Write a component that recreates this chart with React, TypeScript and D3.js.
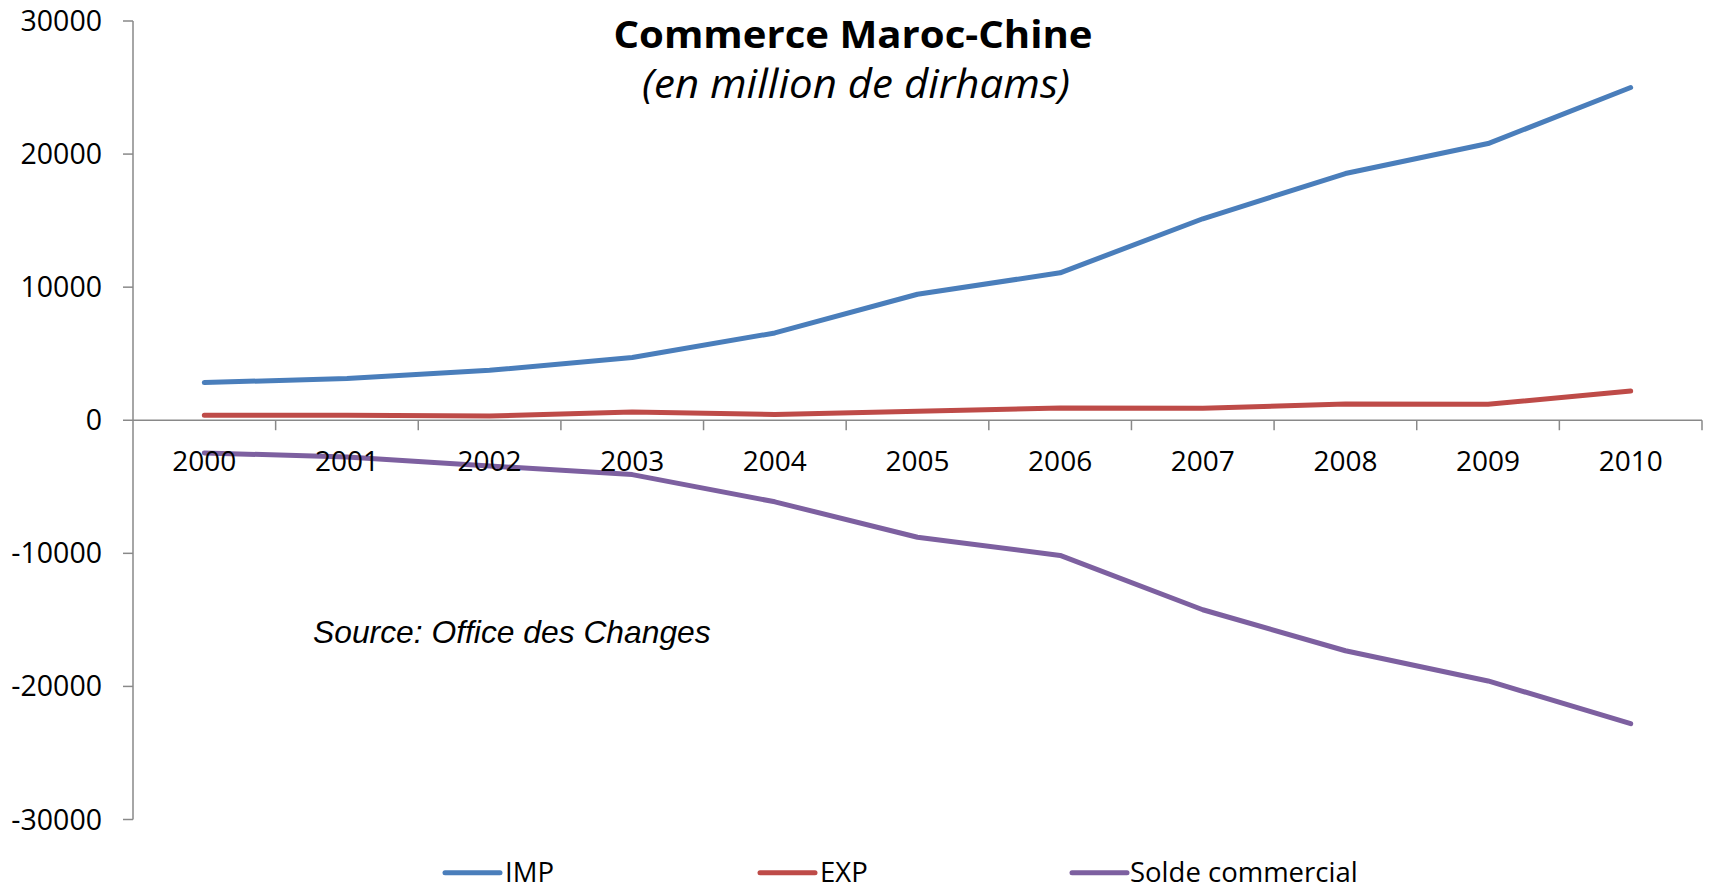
import React, { useEffect } from "react";
import * as d3 from "d3";

const years = ["2000", "2001", "2002", "2003", "2004", "2005", "2006", "2007", "2008", "2009", "2010"];
const imp = [2830, 3140, 3750, 4710, 6560, 9470, 11080, 15140, 18540, 20790, 25000];
const exp = [375, 375, 320, 625, 430, 680, 925, 900, 1220, 1200, 2200];
const solde = [-2455, -2765, -3430, -4085, -6130, -8790, -10155, -14240, -17320, -19590, -22800];
const yTicks = [30000, 20000, 10000, 0, -10000, -20000, -30000];
const seriesNames = ["IMP", "EXP", "Solde commercial"];
const seriesColors = ["#4A7EBB", "#BE4B48", "#7D60A0"];

const W = 1709;
const H = 889;

export default function App() {
  useEffect(() => {
    document.body.style.margin = "0";
  }, []);

  const x = d3.scaleBand<string>().domain(years).range([133, 1702]).paddingInner(0).paddingOuter(0);
  const y = d3.scaleLinear().domain([-30000, 30000]).range([819.5, 21]);
  const cx = (yr: string) => (x(yr) as number) + x.bandwidth() / 2;

  const line = d3
    .line<number>()
    .x((_, i) => cx(years[i]))
    .y((v) => y(v));

  const series = [imp, exp, solde];
  const axisColor = "#898989";
  const font = "'Open Sans', Calibri, sans-serif";
  const x0 = x.range()[0];
  const x1 = x.range()[1];
  const yZero = y(0);

  const legendItems = [
    { lx: 445, tx: 505 },
    { lx: 760, tx: 820 },
    { lx: 1072, tx: 1130 },
  ];

  return (
    <svg width={W} height={H} style={{ display: "block", background: "#fff" }}>
      {/* y axis */}
      <line x1={x0} x2={x0} y1={y(30000)} y2={y(-30000)} stroke={axisColor} strokeWidth={1.5} />
      {yTicks.map((t) => (
        <g key={t}>
          <line x1={x0 - 10} x2={x0} y1={y(t)} y2={y(t)} stroke={axisColor} strokeWidth={1.5} />
          <text x={102} y={y(t) + 10} textAnchor="end" fontFamily={font} fontSize={28.5} fill="#000">
            {t}
          </text>
        </g>
      ))}
      {/* x axis */}
      <line x1={x0} x2={x1} y1={yZero} y2={yZero} stroke={axisColor} strokeWidth={1.5} />
      {years.map((yr) => (
        <line
          key={"t" + yr}
          x1={(x(yr) as number) + x.bandwidth()}
          x2={(x(yr) as number) + x.bandwidth()}
          y1={yZero}
          y2={yZero + 10}
          stroke={axisColor}
          strokeWidth={1.5}
        />
      ))}
      {/* series */}
      {series.map((s, i) => (
        <path
          key={seriesNames[i]}
          d={line(s) as string}
          fill="none"
          stroke={seriesColors[i]}
          strokeWidth={5}
          strokeLinejoin="round"
          strokeLinecap="round"
        />
      ))}
      {/* x labels (drawn above lines like Excel) */}
      {years.map((yr) => (
        <text key={"l" + yr} x={cx(yr)} y={yZero + 51} textAnchor="middle" fontFamily={font} fontSize={28} fill="#000">
          {yr}
        </text>
      ))}
      {/* title */}
      <text
        x={853}
        y={48}
        textAnchor="middle"
        fontFamily={font}
        fontWeight={700}
        fontSize={38}
        fill="#000"
        textLength={479}
        lengthAdjust="spacingAndGlyphs"
      >
        Commerce Maroc-Chine
      </text>
      <text
        x={856}
        y={98}
        textAnchor="middle"
        fontFamily={font}
        fontStyle="italic"
        fontSize={40}
        fill="#000"
        textLength={428}
        lengthAdjust="spacingAndGlyphs"
      >
        (en million de dirhams)
      </text>
      {/* source */}
      <text x={313} y={643} fontFamily="'Liberation Sans', Arial, sans-serif" fontStyle="italic" fontSize={31.8} fill="#000">
        Source: Office des Changes
      </text>
      {/* legend */}
      {legendItems.map((l, i) => (
        <g key={"lg" + i}>
          <line x1={l.lx} x2={l.lx + 55} y1={872.7} y2={872.7} stroke={seriesColors[i]} strokeWidth={5} strokeLinecap="round" />
          <text x={l.tx} y={882} fontFamily={font} fontSize={27.5} fill="#000">
            {seriesNames[i]}
          </text>
        </g>
      ))}
    </svg>
  );
}
